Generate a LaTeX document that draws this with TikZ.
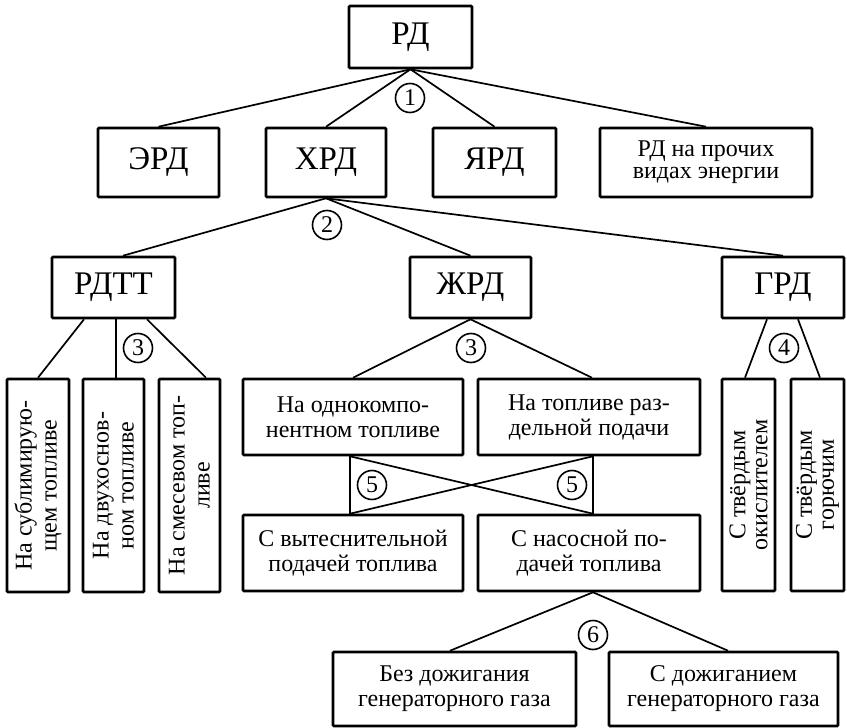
\documentclass[tikz,border=0pt]{standalone}
\usepackage{fontspec}
\setmainfont{Liberation Serif}
\tikzset{
  box/.style={draw, line width=2.6pt, rounded corners=1pt, inner sep=0pt, align=center},
  bigtxt/.style={font=\fontsize{33}{36}\selectfont},
  smalltxt/.style={font=\fontsize{24}{24}\selectfont},
  conn/.style={line width=1.7pt},
  num/.style={draw, circle, line width=1.6pt, minimum size=29pt, inner sep=0pt, font=\fontsize{24}{24}\selectfont},
}
\begin{document}
\begin{tikzpicture}[x=1pt,y=-1pt]
\useasboundingbox (0,0) rectangle (847,728);
% row 1
\node[box,bigtxt,minimum width=123pt,minimum height=62pt] (rd) at (410.5,37) {РД};
% row 2
\node[box,bigtxt,minimum width=121pt,minimum height=69pt] (erd) at (158.5,162.5) {ЭРД};
\node[box,bigtxt,minimum width=120pt,minimum height=69pt] (hrd) at (326,162.5) {ХРД};
\node[box,bigtxt,minimum width=123pt,minimum height=69pt] (yard) at (494.5,162.5) {ЯРД};
\node[box,smalltxt,minimum width=212pt,minimum height=69pt,font=\fontsize{24}{22}\selectfont] (proch) at (706,162.5) {РД на прочих\\видах энергии};
% row 3
\node[box,bigtxt,minimum width=123pt,minimum height=61pt] (rdtt) at (113.5,287.5) {РДТТ};
\node[box,bigtxt,minimum width=121pt,minimum height=61pt] (zhrd) at (470.5,287.5) {ЖРД};
\node[box,bigtxt,minimum width=122pt,minimum height=61pt] (grd) at (783,287.5) {ГРД};
% row 4 vertical
\node[box,smalltxt,rotate=90,minimum width=213pt,minimum height=62pt,font=\fontsize{24}{25}\selectfont] (v1) at (38,485.5) {На сублимирую-\\щем топливе};
\node[box,smalltxt,rotate=90,minimum width=213pt,minimum height=61pt,font=\fontsize{24}{25}\selectfont] (v2) at (113.5,485.5) {На двухоснов-\\ном топливе};
\node[box,smalltxt,rotate=90,minimum width=213pt,minimum height=61pt,font=\fontsize{24}{25}\selectfont] (v3) at (189.5,485.5) {На смесевом топ-\\ливе};
\node[box,smalltxt,rotate=90,minimum width=212pt,minimum height=53pt,font=\fontsize{24}{22}\selectfont] (g1) at (748.5,485) {С твёрдым\\окислителем};
\node[box,smalltxt,rotate=90,minimum width=212pt,minimum height=53pt,font=\fontsize{24}{22}\selectfont] (g2) at (817.5,485) {С твёрдым\\горючим};
% LRE boxes
\node[box,smalltxt,minimum width=220pt,minimum height=76pt,font=\fontsize{24}{25}\selectfont] (one) at (353,417) {На однокомпо-\\нентном топливе};
\node[box,smalltxt,minimum width=222pt,minimum height=76pt,font=\fontsize{24}{25}\selectfont] (sep) at (589,417) {На топливе раз-\\дельной подачи};
\node[box,smalltxt,minimum width=220pt,minimum height=76pt,font=\fontsize{24}{25}\selectfont] (vyt) at (353,553) {С вытеснительной\\подачей топлива};
\node[box,smalltxt,minimum width=222pt,minimum height=76pt,font=\fontsize{24}{25}\selectfont] (nas) at (589,553) {С насосной по-\\дачей топлива};
% bottom row
\node[box,smalltxt,minimum width=243pt,minimum height=74pt,font=\fontsize{24}{25}\selectfont] (bez) at (454.5,689) {Без дожигания\\генераторного газа};
\node[box,smalltxt,minimum width=229pt,minimum height=74pt,font=\fontsize{24}{25}\selectfont] (sdozh) at (723.5,689) {С дожиганием\\генераторного газа};
% connectors level 1
\draw[conn] (rd.south) -- (erd.north);
\draw[conn] (rd.south) -- (hrd.north);
\draw[conn] (rd.south) -- (yard.north);
\draw[conn] (rd.south) -- (proch.north);
% level 2
\draw[conn] (hrd.south) -- ([xshift=9.5pt]rdtt.north);
\draw[conn] (hrd.south) -- (zhrd.north);
\draw[conn] (hrd.south) -- (grd.north);
% RDTT children
\draw[conn] ([xshift=-29.5pt]rdtt.south) -- (v1.east);
\draw[conn] ([xshift=2.5pt]rdtt.south) -- ([xshift=2.5pt]rdtt.south |- v2.east);
\draw[conn] ([xshift=33.5pt]rdtt.south) -- ([xshift=16.5pt]v3.east);
% LRE children
\draw[conn] (zhrd.south) -- (one.north);
\draw[conn] (zhrd.south) -- ([xshift=3pt]sep.north);
% GRD children
\draw[conn] ([xshift=-16pt]grd.south) -- ([xshift=-3.5pt]g1.east);
\draw[conn] ([xshift=15pt]grd.south) -- ([xshift=2.5pt]g2.east);
% cross
\draw[conn] ([xshift=-3pt]one.south) -- ([xshift=-3pt]vyt.north);
\draw[conn] ([xshift=4pt]sep.south) -- ([xshift=4pt]nas.north);
\draw[conn] ([xshift=-3pt]one.south) -- ([xshift=4pt]nas.north);
\draw[conn] ([xshift=-3pt]vyt.north) -- ([xshift=4pt]sep.south);
% pump children
\draw[conn] ([xshift=4pt]nas.south) -- ([xshift=-4.5pt]bez.north);
\draw[conn] ([xshift=4pt]nas.south) -- ([xshift=4.5pt]sdozh.north);
% numbers
\node[num] (n1) at (410,98) {1};
\node[num] (n2) at (327,225) {2};
\node[num] (n3a) at (138,348) {3};
\node[num] (n3b) at (471,348) {3};
\node[num] (n4) at (784,348) {4};
\node[num] (n5a) at (372,485) {5};
\node[num] (n5b) at (572,485) {5};
\node[num] (n6) at (593,635) {6};
\end{tikzpicture}
\end{document}
